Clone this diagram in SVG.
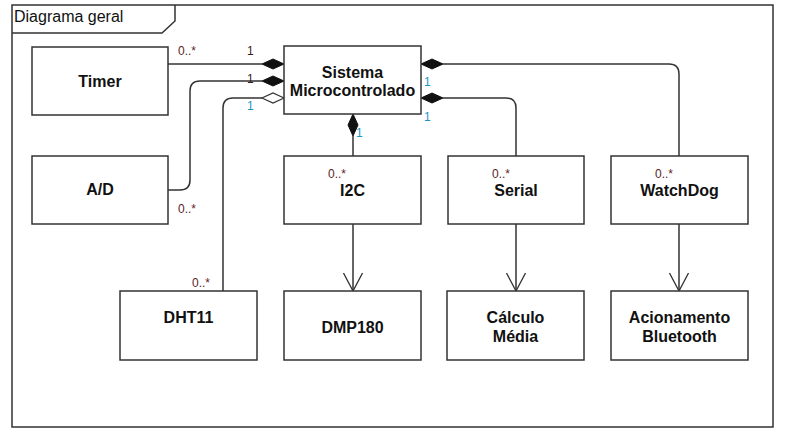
<svg xmlns="http://www.w3.org/2000/svg" width="785" height="436" viewBox="0 0 785 436">
<style>
.box{fill:#fff;stroke:#333;stroke-width:1.5}
.t{font-family:"Liberation Sans",Arial,sans-serif;font-size:16px;font-weight:bold;fill:#111;text-anchor:middle}
.ln{fill:none;stroke:#333;stroke-width:1.5}
.m{font-family:"Liberation Sans",Arial,sans-serif;font-size:12px;fill:#5a2525}
.o{font-family:"Liberation Sans",Arial,sans-serif;font-size:12px;fill:#1b95c4}
.k{font-family:"Liberation Sans",Arial,sans-serif;font-size:12px;fill:#3a1a1a}
.fd{fill:#111;stroke:#111;stroke-width:1}
.hd{fill:#fff;stroke:#333;stroke-width:1.2}
</style>
<defs>
<marker id="open" viewBox="0 0 20 20" refX="19" refY="10" markerWidth="20" markerHeight="20" markerUnits="userSpaceOnUse" orient="auto">
<path d="M1,0.5 L19,10 L1,19.5" fill="none" stroke="#333" stroke-width="1.3"/>
</marker>
</defs>
<rect x="0" y="0" width="785" height="436" fill="#fff"/>
<g id="frame">
<rect x="12" y="5" width="761" height="422" fill="none" stroke="#333" stroke-width="1.5"/>
<path d="M12,33 H162 L175,21 V5" fill="none" stroke="#333" stroke-width="1.5"/>
<text x="14" y="22" font-family="Liberation Sans,Arial,sans-serif" font-size="16" fill="#111">Diagrama geral</text>
</g>
<g id="connectors">
<path class="ln" d="M168,64 H262"/>
<polygon class="fd" points="284,64 273,59 262,64 273,69"/>
<path class="ln" d="M168,190 H180 Q190,190 190,180 V91 Q190,81 200,81 H262"/>
<polygon class="fd" points="284,81 273,76 262,81 273,86"/>
<path class="ln" d="M223,291 V108 Q223,98 233,98 H262"/>
<polygon class="hd" points="284,98 273,93 262,98 273,103"/>
<path class="ln" d="M443,64 H669 Q679,64 679,74 V156"/>
<polygon class="fd" points="421,64 432,59 443,64 432,69"/>
<path class="ln" d="M443,98 H506 Q516,98 516,108 V156"/>
<polygon class="fd" points="421,98 432,93 443,98 432,103"/>
<path class="ln" d="M353,136 V156"/>
<polygon class="fd" points="353,114 358,125 353,136 348,125"/>
<path class="ln" d="M353,224 V291" marker-end="url(#open)"/>
<path class="ln" d="M516,224 V291" marker-end="url(#open)"/>
<path class="ln" d="M679,224 V291" marker-end="url(#open)"/>
</g>
<g id="timer"><rect class="box" x="32" y="47" width="136" height="68"/><text class="t" x="100" y="87">Timer</text></g>
<g id="sistema"><rect class="box" x="284" y="46" width="137" height="68"/><text class="t" x="352.5" y="78">Sistema</text><text class="t" x="352.5" y="96">Microcontrolado</text></g>
<g id="ad"><rect class="box" x="32" y="156" width="136" height="68"/><text class="t" x="100" y="195">A/D</text></g>
<g id="i2c"><rect class="box" x="284" y="156" width="137" height="68"/><text class="t" x="352.5" y="196">I2C</text></g>
<g id="serial"><rect class="box" x="448" y="156" width="136" height="68"/><text class="t" x="516" y="196">Serial</text></g>
<g id="watchdog"><rect class="box" x="611" y="156" width="137" height="68"/><text class="t" x="679.5" y="196">WatchDog</text></g>
<g id="dht11"><rect class="box" x="120" y="291" width="137" height="69"/><text class="t" x="188.5" y="323">DHT11</text></g>
<g id="dmp180"><rect class="box" x="284" y="291" width="137" height="69"/><text class="t" x="352.5" y="333">DMP180</text></g>
<g id="calculo"><rect class="box" x="447" y="291" width="137" height="69"/><text class="t" x="515.5" y="323">Cálculo</text><text class="t" x="515.5" y="342">Média</text></g>
<g id="bluetooth"><rect class="box" x="611" y="291" width="137" height="69"/><text class="t" x="679.5" y="323">Acionamento</text><text class="t" x="679.5" y="342">Bluetooth</text></g>
<g id="labels">
<text class="m" x="178" y="55">0..*</text>
<text class="k" x="247" y="55">1</text>
<text class="k" x="247" y="83">1</text>
<text class="o" x="247" y="110">1</text>
<text class="m" x="178" y="213">0..*</text>
<text class="m" x="192" y="287">0..*</text>
<text class="o" x="424" y="86">1</text>
<text class="o" x="424" y="121">1</text>
<text class="o" x="356" y="137">1</text>
<text class="m" x="328" y="178">0..*</text>
<text class="m" x="492" y="178">0..*</text>
<text class="m" x="655" y="178">0..*</text>
</g>
</svg>
